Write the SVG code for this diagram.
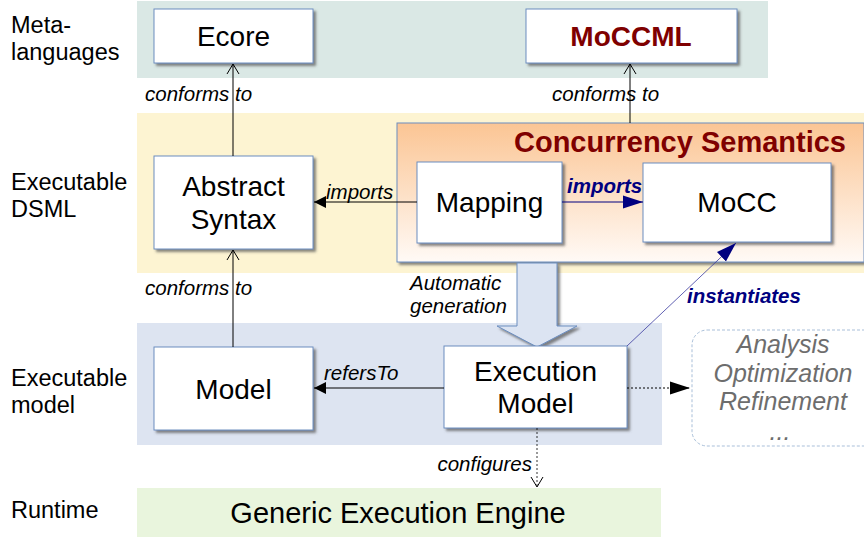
<svg xmlns="http://www.w3.org/2000/svg" width="864" height="537" viewBox="0 0 864 537">
<defs>
<linearGradient id="cs" x1="0" y1="0" x2="0" y2="1">
<stop offset="0" stop-color="#fbc594"/>
<stop offset="1" stop-color="#fffaf6"/>
</linearGradient>
<marker id="open" markerWidth="14" markerHeight="14" refX="11" refY="7" orient="auto" markerUnits="userSpaceOnUse">
<path d="M1,1 L11,7 L1,13" fill="none" stroke="#000" stroke-width="1"/>
</marker>
<marker id="fill" markerWidth="14" markerHeight="14" refX="12" refY="7" orient="auto" markerUnits="userSpaceOnUse">
<path d="M0,1 L12,7 L0,13 Z" fill="#000"/>
</marker>
<marker id="fill2" markerWidth="22" markerHeight="16" refX="20" refY="8" orient="auto" markerUnits="userSpaceOnUse">
<path d="M0,1.5 L20,8 L0,14.5 Z" fill="#000"/>
</marker>
<marker id="navy" markerWidth="22" markerHeight="16" refX="20" refY="8" orient="auto" markerUnits="userSpaceOnUse">
<path d="M0,1.5 L20,8 L0,14.5 Z" fill="#000080"/>
</marker>
<filter id="sh" x="-10%" y="-10%" width="130%" height="130%">
<feDropShadow dx="2.5" dy="2.5" stdDeviation="0.8" flood-color="#555" flood-opacity="0.7"/>
</filter>
</defs>
<style>
.box{fill:#fff;stroke:#6c8ebf;stroke-width:1;filter:url(#sh)}
.t{font-family:"Liberation Sans",Arial,sans-serif;font-size:28px;fill:#000;text-anchor:middle}
.side{font-family:"Liberation Sans",Arial,sans-serif;font-size:23.5px;fill:#000}
.lab{font-family:"Liberation Sans",Arial,sans-serif;font-size:20.5px;font-style:italic;fill:#000}
.blab{font-family:"Liberation Sans",Arial,sans-serif;font-size:20.5px;font-style:italic;font-weight:bold;fill:#000080}
.ln{stroke:#000;stroke-width:1;fill:none}
</style>
<rect width="864" height="537" fill="#fff"/>
<g id="bands">
<rect x="137" y="1" width="631" height="77" fill="#dae8e5"/>
<rect x="137" y="113" width="727" height="160" fill="#fdf4d2"/>
<rect x="137" y="323" width="525" height="122" fill="#dde4f1"/>
<rect x="137" y="488" width="524" height="49" fill="#e9f5dd"/>
</g>
<g id="side-labels">
<text class="side" x="11" y="33">Meta-</text>
<text class="side" x="11" y="60">languages</text>
<text class="side" x="11" y="190">Executable</text>
<text class="side" x="11" y="217">DSML</text>
<text class="side" x="11" y="386">Executable</text>
<text class="side" x="11" y="413">model</text>
<text class="side" x="11" y="518">Runtime</text>
</g>
<g id="concurrency">
<rect x="397" y="123" width="467" height="139" fill="url(#cs)" stroke="#6c8ebf" stroke-width="1" filter="url(#sh)"/>
<text x="846" y="152" font-family="Liberation Sans,Arial,sans-serif" font-size="29" font-weight="bold" fill="#7f0000" text-anchor="end">Concurrency Semantics</text>
</g>
<g id="gen-arrow">
<path d="M517,263 L557,263 L557,326 L577,326 L537,347 L497,326 L517,326 Z" fill="#dce4f2" stroke="#6c8ebf" stroke-width="1" filter="url(#sh)"/>
</g>
<g id="ecore"><rect class="box" x="154" y="9" width="159" height="54"/><text class="t" x="233.5" y="46">Ecore</text></g>
<g id="moccml"><rect class="box" x="526" y="9" width="211" height="54"/><text class="t" x="631" y="46" font-weight="bold" style="fill:#7f0000">MoCCML</text></g>
<g id="abstract-syntax"><rect class="box" x="154" y="156" width="159" height="93"/><text class="t" x="233.5" y="196">Abstract</text><text class="t" x="233.5" y="229">Syntax</text></g>
<g id="mapping"><rect class="box" x="417" y="162" width="145" height="81"/><text class="t" x="489.5" y="212">Mapping</text></g>
<g id="mocc"><rect class="box" x="643" y="163" width="188" height="79"/><text class="t" x="737" y="212">MoCC</text></g>
<g id="model"><rect class="box" x="154" y="347" width="159" height="83"/><text class="t" x="233.5" y="399">Model</text></g>
<g id="execution-model"><rect class="box" x="444" y="346" width="183" height="82"/><text class="t" x="535.5" y="381">Execution</text><text class="t" x="535.5" y="413">Model</text></g>
<g id="analysis">
<rect x="692" y="330" width="190" height="116" rx="15" fill="#fff" stroke="#a9bfd9" stroke-width="1" stroke-dasharray="3,2"/>
<g font-family="Liberation Sans,Arial,sans-serif" font-size="25" font-style="italic" fill="#6d6d6d" text-anchor="middle">
<text x="783" y="353">Analysis</text>
<text x="783" y="382">Optimization</text>
<text x="783" y="410">Refinement</text>
<text x="780" y="440">...</text>
</g>
</g>
<g id="engine"><text class="t" x="398" y="523" style="font-size:29px">Generic Execution Engine</text></g>
<g id="connectors">
<line class="ln" x1="233" y1="156" x2="233" y2="64" stroke="#444" marker-end="url(#open)"/>
<text class="lab" x="145" y="101">conforms to</text>
<line class="ln" x1="630" y1="123" x2="630" y2="64" stroke="#444" marker-end="url(#open)"/>
<text class="lab" x="552" y="101">conforms to</text>
<line class="ln" x1="233" y1="347" x2="233" y2="250" marker-end="url(#open)"/>
<text class="lab" x="145" y="295">conforms to</text>
<line class="ln" x1="417" y1="202" x2="314" y2="202" stroke="#333" marker-end="url(#fill)"/>
<text class="lab" x="326" y="199">imports</text>
<line x1="562" y1="202" x2="643" y2="202" stroke="#000080" stroke-width="1.2" marker-end="url(#navy)"/>
<text class="blab" x="567" y="193">imports</text>
<line x1="627" y1="346" x2="736" y2="243" stroke="#3a3aa0" stroke-width="0.8" marker-end="url(#navy)"/>
<text class="blab" x="687" y="303">instantiates</text>
<line class="ln" x1="444" y1="388" x2="314" y2="388" stroke="#444" marker-end="url(#fill)"/>
<text class="lab" x="324" y="380">refersTo</text>
<line x1="627" y1="388" x2="690" y2="388" stroke="#000" stroke-width="1" stroke-dasharray="2,2" marker-end="url(#fill2)"/>
<line x1="537" y1="428" x2="537" y2="487" stroke="#000" stroke-width="0.8" stroke-dasharray="2,2" marker-end="url(#open)"/>
<text class="lab" x="532" y="471" text-anchor="end">configures</text>
<text class="lab" x="410" y="290">Automatic</text>
<text class="lab" x="410" y="313">generation</text>
</g>
</svg>
